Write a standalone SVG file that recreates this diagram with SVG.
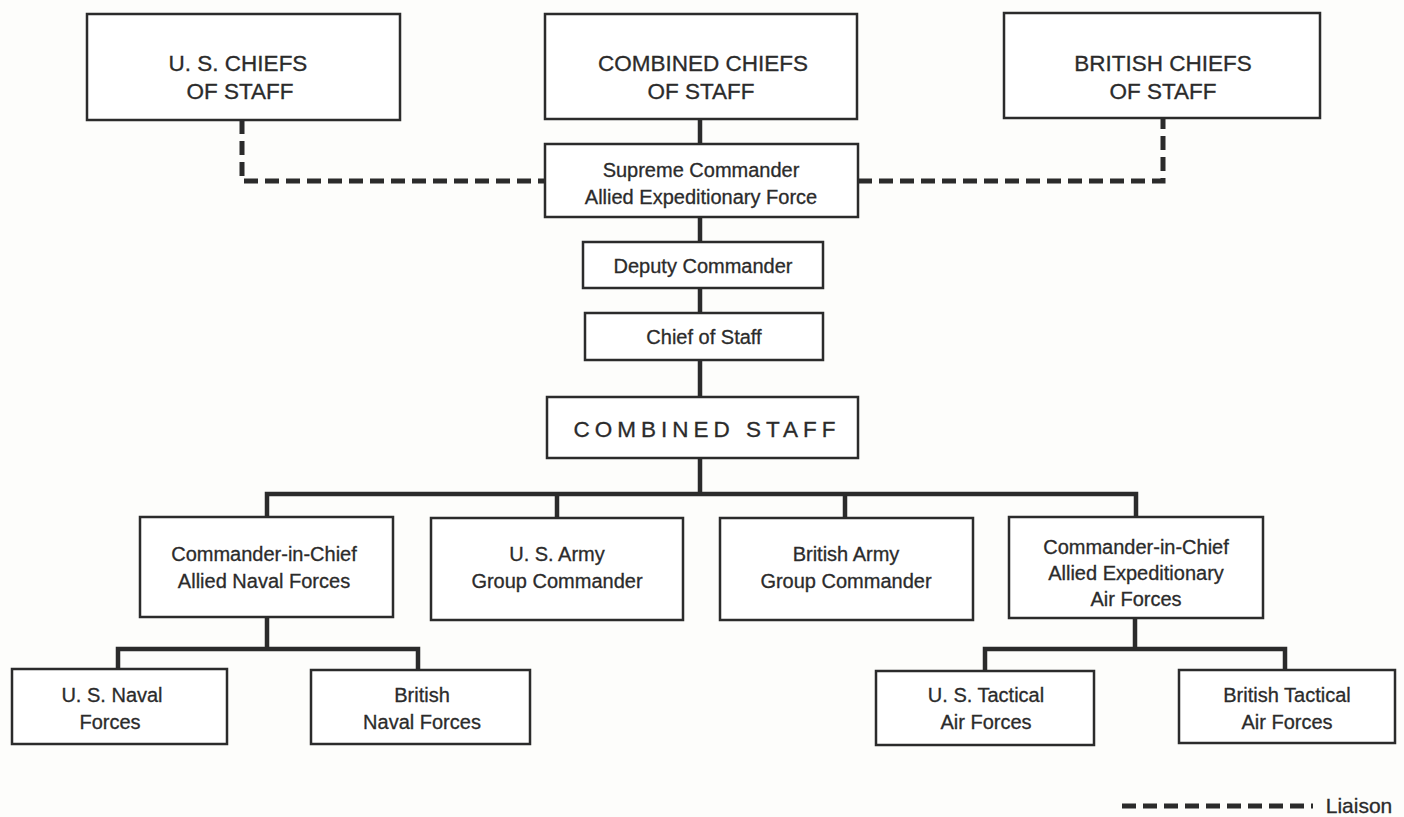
<svg xmlns="http://www.w3.org/2000/svg" width="1404" height="817" viewBox="0 0 1404 817">
<style>
.box{fill:#fff;stroke:#2b2b2b;stroke-width:2.5}
.ln{fill:none;stroke:#2b2b2b;stroke-width:4.5;stroke-linejoin:miter}
.dash{fill:none;stroke:#2b2b2b;stroke-width:5;stroke-dasharray:14 7}
text{font-family:"Liberation Sans","DejaVu Sans",sans-serif;fill:#2b2b2b;text-anchor:middle;stroke:#2b2b2b;stroke-width:0.3}
.big{font-size:22.5px}
.sm{font-size:20px}
</style>
<rect width="1404" height="817" fill="#fdfdfb"/>
<g id="connectors">
<path class="dash" d="M242,120 V181 H545"/>
<path class="dash" d="M858,181 H1163 V118"/>
<path class="ln" d="M700,119 V144 M700,217 V242 M700,288 V313 M700,360 V397 M700,458 V494"/>
<path class="ln" d="M267,517 V494 H1136 V517 M557,494 V518 M845,494 V518"/>
<path class="ln" d="M267,617 V649 M118,669 V649 H418 V670"/>
<path class="ln" d="M1135,618 V649 M985,670 V649 H1285 V670"/>
</g>
<g id="usjcs"><rect class="box" x="87" y="14" width="313" height="106"/><text class="big" x="238" y="71">U. S. CHIEFS</text><text class="big" x="240" y="99">OF STAFF</text></g>
<g id="ccs"><rect class="box" x="545" y="14" width="312" height="105"/><text class="big" x="703" y="71">COMBINED CHIEFS</text><text class="big" x="701" y="99">OF STAFF</text></g>
<g id="bcs"><rect class="box" x="1004" y="13" width="316" height="105"/><text class="big" x="1163" y="71">BRITISH CHIEFS</text><text class="big" x="1163" y="99">OF STAFF</text></g>
<g id="supreme"><rect class="box" x="545" y="144" width="313" height="73"/><text class="sm" x="701" y="177">Supreme Commander</text><text class="sm" x="701" y="204">Allied Expeditionary Force</text></g>
<g id="deputy"><rect class="box" x="583" y="242" width="240" height="46"/><text class="sm" x="703" y="273">Deputy Commander</text></g>
<g id="cos"><rect class="box" x="585" y="313" width="238" height="47"/><text class="sm" x="704" y="344">Chief of Staff</text></g>
<g id="cstaff"><rect class="box" x="547" y="397" width="311" height="61"/><text class="big" x="707" y="437" style="letter-spacing:5px">COMBINED STAFF</text></g>
<g id="naval"><rect class="box" x="140" y="517" width="253" height="100"/><text class="sm" x="264" y="561">Commander-in-Chief</text><text class="sm" x="264" y="588">Allied Naval Forces</text></g>
<g id="usarmy"><rect class="box" x="431" y="518" width="252" height="102"/><text class="sm" x="557" y="561">U. S. Army</text><text class="sm" x="557" y="588">Group Commander</text></g>
<g id="brarmy"><rect class="box" x="720" y="518" width="253" height="102"/><text class="sm" x="846" y="561">British Army</text><text class="sm" x="846" y="588">Group Commander</text></g>
<g id="air"><rect class="box" x="1009" y="517" width="254" height="101"/><text class="sm" x="1136" y="554">Commander-in-Chief</text><text class="sm" x="1136" y="580">Allied Expeditionary</text><text class="sm" x="1136" y="606">Air Forces</text></g>
<g id="usnaval"><rect class="box" x="12" y="669" width="215" height="75"/><text class="sm" x="112" y="702">U. S. Naval</text><text class="sm" x="110" y="729">Forces</text></g>
<g id="brnaval"><rect class="box" x="311" y="670" width="219" height="74"/><text class="sm" x="422" y="702">British</text><text class="sm" x="422" y="729">Naval Forces</text></g>
<g id="ustac"><rect class="box" x="876" y="671" width="218" height="74"/><text class="sm" x="986" y="702">U. S. Tactical</text><text class="sm" x="986" y="729">Air Forces</text></g>
<g id="brtac"><rect class="box" x="1179" y="670" width="216" height="73"/><text class="sm" x="1287" y="702">British Tactical</text><text class="sm" x="1287" y="729">Air Forces</text></g>
<g id="legend"><path class="dash" d="M1122,806 H1313"/><text class="sm" x="1359" y="813" style="font-size:21px">Liaison</text></g>
</svg>
